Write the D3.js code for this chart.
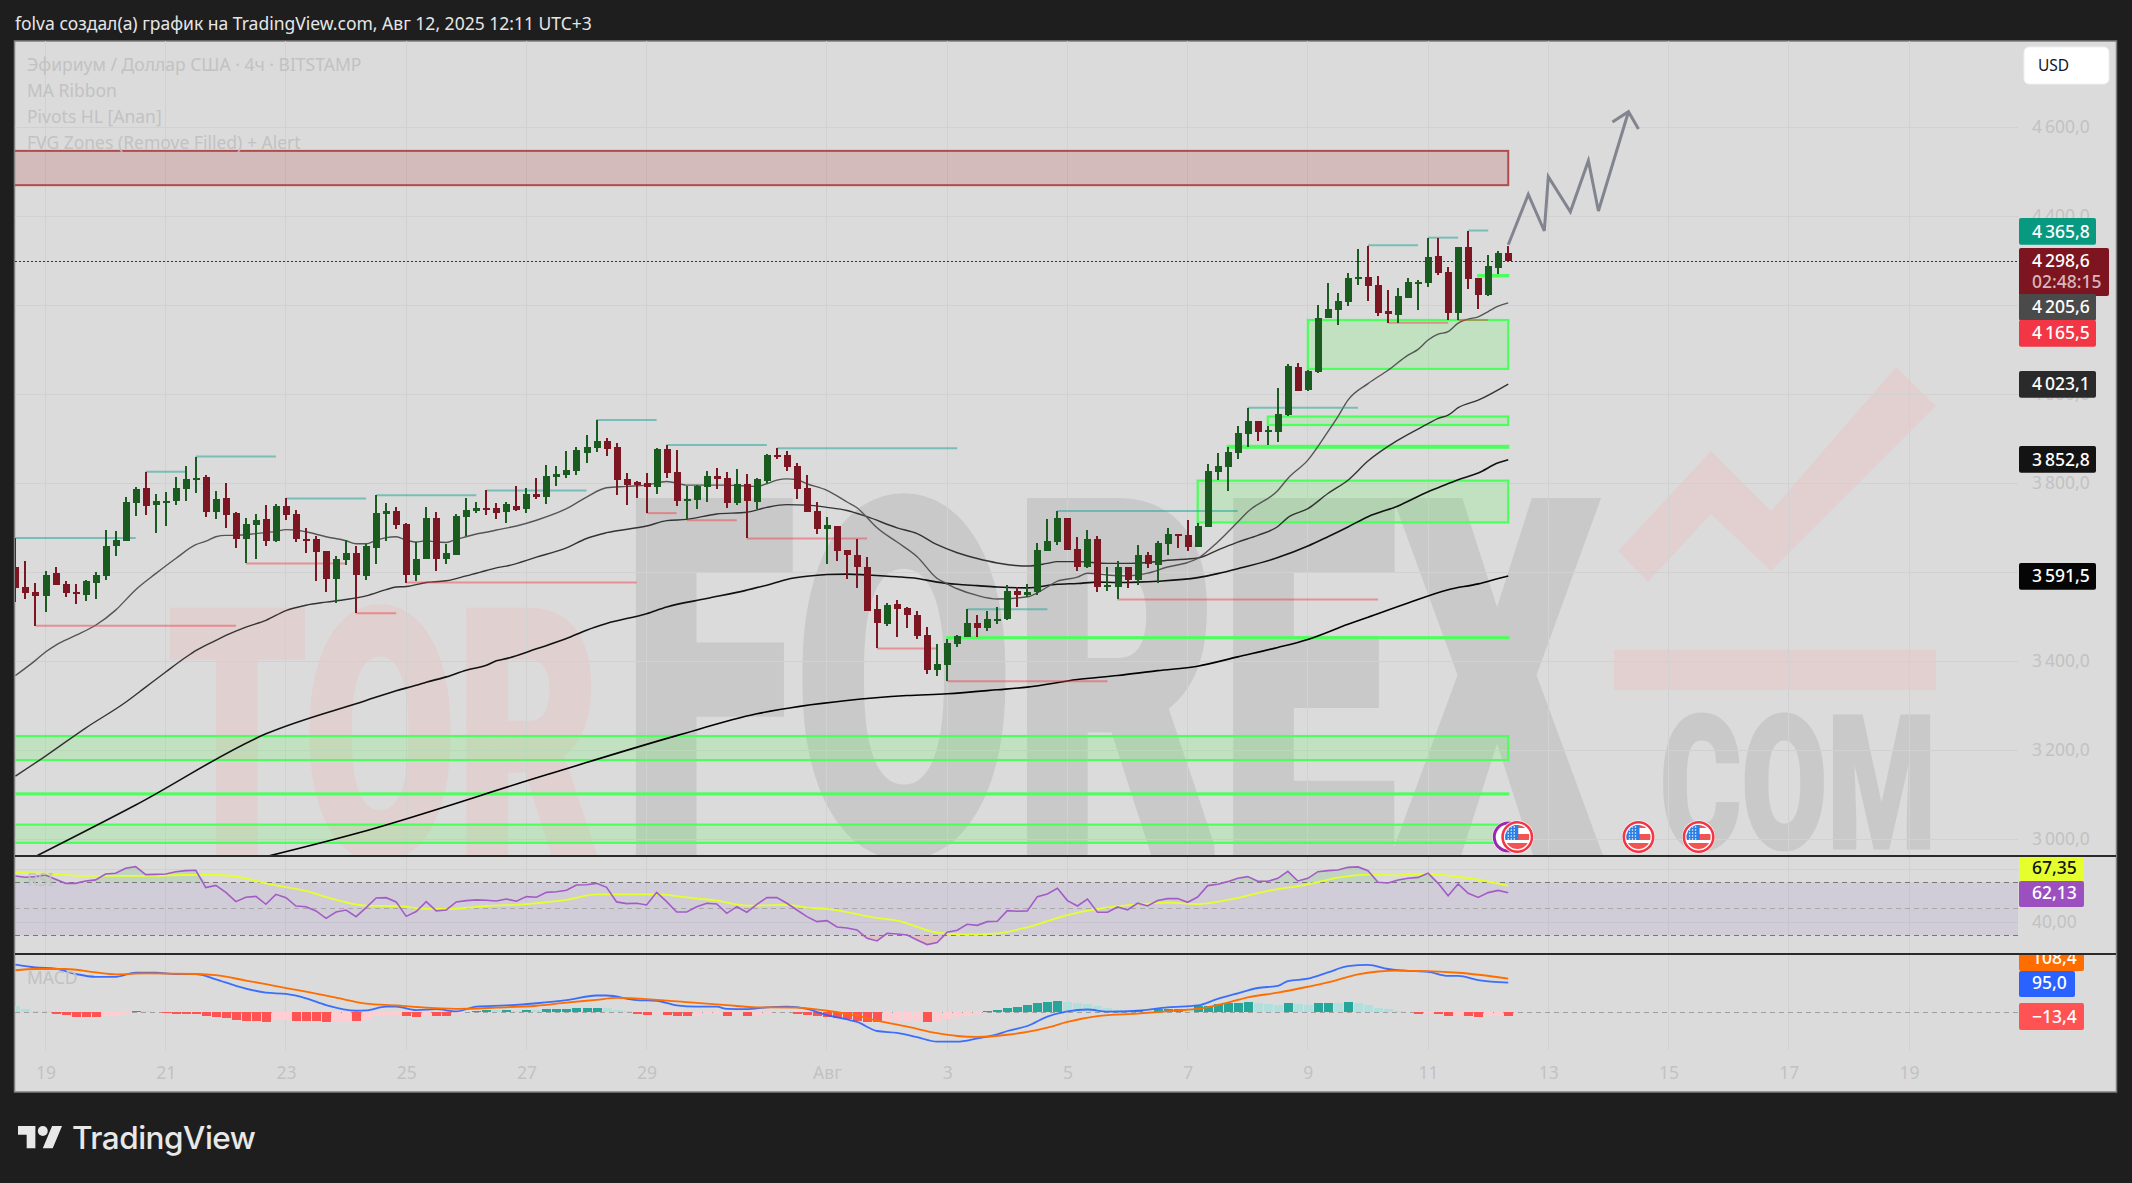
<!DOCTYPE html>
<html><head><meta charset="utf-8">
<script src="https://cdn.jsdelivr.net/npm/d3@7/dist/d3.min.js"></script>
<style>html,body{margin:0;padding:0;background:#1e1e1e}svg{display:block}text{font-family:"Noto Sans",sans-serif}</style>
</head><body><svg id="c" width="2132" height="1183"></svg>
<script>
// ---- data ----
const firstBar=-3;
const candleOpen=[3612,3566,3555,3547,3598,3573,3555,3550,3577,3591,
3658,3670,3755,3789,3751,3758,3760,3787,3807,3814,
3735,3766,3733,3674,3706,3719,3670,3748,3730,3674,
3674,3647,3586,3627,3643,3591,3654,3730,3737,3708,
3593,3629,3721,3631,3640,3724,3737,3744,3744,3735,
3748,3742,3775,3769,3814,3818,3827,3868,3879,3895,
3881,3809,3802,3800,3791,3877,3825,3760,3762,3791,
3816,3811,3755,3798,3757,3805,3863,3863,3838,3789,
3737,3697,3704,3649,3640,3613,3517,3483,3528,3519,
3505,3458,3380,3391,3440,3454,3485,3474,3494,3494,
3557,3550,3555,3647,3667,3721,3652,3611,3674,3568,
3568,3611,3582,3638,3616,3663,3685,3683,3656,3701,
3825,3836,3868,3911,3940,3917,3915,3953,4061,4010,
4050,4172,4190,4208,4259,4264,4246,4187,4178,4217,
4250,4250,4311,4275,4183,4331,4262,4223,4284,4318];
const candleHigh=[3676,3625,3577,3602,3611,3580,3573,3582,3600,3694,
3692,3769,3791,3826,3775,3780,3814,3838,3859,3818,
3782,3800,3735,3721,3730,3751,3753,3766,3739,3699,
3681,3647,3636,3672,3658,3663,3773,3755,3746,3710,
3667,3746,3735,3663,3730,3766,3757,3784,3755,3757,
3793,3789,3811,3841,3838,3872,3881,3908,3942,3901,
3890,3823,3805,3823,3879,3886,3874,3793,3796,3827,
3834,3825,3832,3820,3811,3865,3879,3872,3845,3818,
3757,3724,3704,3649,3674,3634,3550,3530,3537,3523,
3514,3478,3440,3451,3458,3517,3503,3514,3521,3571,
3566,3573,3665,3719,3737,3721,3679,3694,3681,3611,
3625,3613,3661,3645,3670,3699,3685,3717,3710,3843,
3868,3881,3928,3969,3940,3928,4014,4068,4070,4055,
4201,4250,4228,4273,4327,4334,4266,4235,4239,4262,
4257,4352,4352,4286,4331,4367,4262,4313,4322,4334];
const candleLow=[3533,3539,3480,3511,3571,3544,3528,3535,3539,3582,
3636,3670,3726,3728,3688,3703,3751,3760,3778,3724,
3719,3699,3654,3620,3629,3658,3667,3717,3667,3643,
3580,3555,3530,3616,3508,3582,3618,3670,3697,3575,
3580,3629,3602,3618,3640,3681,3733,3728,3719,3710,
3737,3733,3764,3753,3793,3811,3818,3845,3870,3861,
3773,3751,3766,3733,3775,3811,3748,3719,3742,3757,
3787,3744,3751,3676,3742,3800,3854,3827,3764,3735,
3685,3618,3625,3586,3564,3512,3429,3479,3454,3474,
3449,3371,3368,3355,3433,3454,3454,3467,3483,3492,
3521,3544,3550,3647,3661,3649,3602,3609,3555,3559,
3539,3564,3571,3609,3575,3638,3654,3647,3656,3701,
3807,3782,3854,3881,3895,3886,3892,3951,4007,4007,
4048,4172,4156,4199,4246,4210,4176,4160,4160,4217,
4190,4241,4268,4167,4167,4237,4192,4221,4271,4298.6];
const candleClose=[3565,3553,3547,3595,3571,3553,3553,3580,3593,3658,
3672,3757,3787,3748,3760,3760,3789,3809,3811,3735,
3764,3728,3674,3708,3717,3670,3748,3728,3674,3672,
3645,3586,3629,3643,3593,3658,3733,3737,3706,3593,
3631,3721,3631,3643,3726,3739,3744,3739,3733,3753,
3739,3775,3769,3816,3820,3829,3874,3881,3895,3877,
3807,3796,3796,3791,3877,3823,3760,3764,3793,3816,
3809,3755,3798,3760,3809,3863,3861,3836,3787,3735,
3697,3706,3647,3640,3613,3514,3485,3526,3517,3505,
3456,3380,3393,3442,3456,3485,3474,3496,3496,3557,
3550,3555,3649,3670,3721,3649,3611,3674,3566,3571,
3611,3582,3638,3618,3665,3685,3683,3656,3703,3827,
3838,3870,3913,3940,3915,3920,3956,4063,4007,4052,
4172,4192,4210,4262,4264,4244,4183,4181,4221,4253,
4253,4309,4273,4183,4331,4259,4223,4289,4318,4298.6];

const maFastBars=[-3,-1,0,1,3,5,7,9,11,13,15,16,17,18,19,21,23,24,25,26,28,30,31,32,33,34,35,36,37,38,39,40,41,42,43,44,45,47,49,52,54,56,58,60,62,64,66,68,71,72,73,74,75,76,78,80,81,82,83,85,87,89,90,91,93,95,98,99,100,101,103,104,106,108,110,112,114,115,117,119,120,123,124,126,128,129,130,132,134,136,137,138,139,140,141,142,143,144,145,146];
const maFastValues=[3368,3402,3421,3436,3458,3481,3515,3561,3597,3631,3662,3670,3680,3683,3683,3687,3692,3696,3695,3691,3680,3671,3664,3664,3672,3678,3680,3672,3668,3671,3668,3667,3674,3680,3686,3690,3695,3704,3717,3743,3769,3790,3793,3796,3804,3796,3796,3796,3793,3799,3807,3810,3808,3799,3784,3758,3745,3723,3700,3668,3635,3586,3574,3563,3548,3540,3545,3554,3567,3580,3589,3598,3594,3592,3598,3612,3622,3631,3668,3713,3736,3784,3811,3852,3916,3950,3987,4024,4054,4088,4101,4122,4135,4141,4160,4169,4174,4186,4198,4205.6];
const maMidBars=[-3,0,4,8,10,12,14,15,17,18,20,22,24,26,28,30,32,34,35,36,38,40,42,44,45,46,49,52,54,56,60,62,64,67,70,72,74,76,78,80,82,85,87,89,91,93,95,98,100,101,103,106,108,110,112,115,117,119,121,123,124,126,128,130,132,135,138,139,140,141,143,146];
const maMidValues=[3142,3187,3250,3308,3342,3376,3409,3424,3447,3458,3477,3492,3514,3526,3533,3539,3547,3561,3567,3568,3577,3581,3592,3604,3610,3614,3634,3655,3676,3689,3704,3716,3719,3731,3735,3746,3752,3751,3746,3739,3725,3700,3687,3662,3644,3631,3621,3614,3620,3624,3624,3620,3620,3622,3627,3632,3650,3668,3683,3703,3723,3743,3777,3807,3850,3897,3934,3946,3953,3970,3987,4023.1];
const maSlowBars=[-2,9,22,32,35,37,38,40,42,44,45,46,49,52,54,56,60,62,66,70,72,74,76,78,80,82,85,87,89,91,93,95,98,101,103,105,107,109,111,115,117,119,123,126,128,130,132,135,138,139,141,143,145,146];
const maSlowValues=[2950,3077,3237,3312,3334,3346,3353,3365,3380,3391,3401,3406,3428,3451,3470,3485,3507,3522,3541,3560,3571,3584,3591,3595,3596,3594,3590,3586,3578,3573,3570,3567,3565,3573,3575,3578,3577,3578,3580,3588,3597,3608,3633,3659,3680,3702,3725,3749,3781,3790,3808,3823,3846,3852.8];
const maLongBars=[20,31,50,63,71,80,86,90,95,98,103,107,111,115,119,123,126,130,132,136,140,143,145,146];
const maLongValues=[2950,3013,3145,3233,3282,3312,3323,3327,3336,3342,3359,3368,3379,3389,3410,3431,3449,3483,3499,3531,3561,3574,3586,3591.5];

const pivotHighStart=[-3,10,15,24,33,44,55,62,73,92,101,120,132,138,142];
const pivotHighEnd=[9,14,23,32,43,54,61,72,91,100,119,131,137,141,144];
const pivotHighPrice=[3677,3826,3860,3766,3773,3784,3942,3886,3879,3517,3738,3970,4335,4352,4368];
const pivotLowStart=[-1,20,31,36,60,64,70,83,90,107,134,141];
const pivotLowEnd=[19,30,35,59,63,69,82,89,106,133,140,144];
const pivotLowPrice=[3480,3620,3508,3577,3733,3717,3676,3429,3355,3539,4161,4167];

const zoneStart=[126,122,118,115,90,143,-4,-4,-4];
const zoneTop=[4167,3950,3884,3806,3454,4268,3232,3103,3033];
const zoneBottom=[4057,3931,3880,3712,3452,4265,3178,3101,2992];
const resistTop=4547, resistBottom=4470;

const arrowBars=[146,148,149.6,150,152.2,154,155,158];
const arrowPrices=[4336,4449,4367,4489,4410,4525,4412,4635];
const arrowHeadBars=[156.4,158,159];
const arrowHeadPrices=[4612,4635,4596];

const rsiValues=[74.8,73.8,74.3,75.5,72.3,69.2,69.2,71.0,71.8,76.3,
76.8,80.6,81.8,75.8,76.0,76.3,78.0,78.8,79.1,66.0,
67.7,62.4,55.4,58.7,59.4,53.4,60.9,58.4,52.1,51.6,
48.4,42.8,47.6,49.1,44.1,50.9,58.2,58.4,55.2,44.3,
47.9,55.4,48.4,49.1,55.2,56.2,56.7,56.4,55.9,57.4,
55.7,59.2,58.7,62.4,62.9,64.0,68.0,68.2,69.2,66.2,
55.2,53.9,54.2,52.9,62.4,55.4,47.6,47.6,51.6,54.2,
53.6,46.6,51.6,47.4,53.4,58.4,58.4,54.2,49.1,44.1,
40.3,41.1,36.3,35.5,34.0,27.7,25.7,31.5,31.0,30.2,
26.5,23.0,24.5,32.3,33.8,38.3,37.5,40.3,40.6,48.6,
48.1,48.4,59.2,61.2,65.5,56.2,52.1,57.4,47.4,47.4,
51.4,49.1,54.2,52.1,56.2,57.7,57.7,54.9,58.9,67.5,
68.5,70.5,73.0,74.3,70.8,70.8,73.0,78.3,71.0,73.0,
78.0,78.8,79.3,81.3,81.6,78.8,70.0,69.5,71.8,73.0,
73.7,76.8,69.2,59.9,68.7,61.7,58.6,62.2,63.9,62.13];
const rsiMaBars=[-3,0,4,10,14,17,20,22,26,29,32,35,38,40,44,48,52,55,61,65,67,70,74,76,78,83,85,89,92,95,98,102,105,109,112,115,118,122,126,129,132,135,136,138,141,144,146];
const rsiMaValues=[77.3,76.5,74.8,74.8,75.5,75.5,73.0,69.2,63.5,56.7,52.4,52.1,49.9,49.9,52.1,53.6,56.7,60.9,60.9,57.7,56.2,52.4,52.9,50.9,49.9,43.1,41.1,32.0,30.5,31.5,36.0,45.3,49.9,53.4,54.6,53.6,56.7,63.5,68.5,73.5,75.8,75.3,76.0,76.2,74.2,70.5,67.35];

const macdBars=[-3,-1,1,3,5,7,9,11,13,15,17,19,22,24,26,28,31,32,34,35,37,39,41,43,46,49,52,55,56,59,61,63,65,67,68,70,72,74,76,78,80,81,83,85,87,89,91,93,95,96,98,100,102,104,106,109,112,115,117,119,121,123,124,126,128,130,132,134,135,136,138,140,141,143,146];
const macdValues=[153,144,140,123,114,114,127,127,123,123,106,85,63,59,45,23,5,6,18,18,7,10,3,18,22,29,39,54,54,39,37,22,18,18,11,10,16,18,11,-9,-23,-31,-60,-66,-80,-94,-94,-84,-71,-60,-44,-14,3,9,2,5,16,22,43,61,78,85,100,108,128,148,152,139,135,133,130,117,117,103,95];
const signalBars=[-3,-1,2,5,7,10,15,17,20,23,26,29,32,35,37,41,45,49,52,55,57,61,65,68,71,75,78,81,83,86,89,91,93,96,98,100,102,105,109,113,115,118,120,123,126,128,131,133,135,136,138,141,146];
const signalValues=[135,139,139,128,122,125,123,119,102,84,66,47,28,22,17,11,15,21,31,40,46,40,30,23,16,15,5,-11,-27,-46,-67,-76,-79,-72,-63,-49,-31,-12,-4,6,11,31,48,63,82,96,122,131,134,133,132,127,108.4];
const histValues=[20,10,3,3,-4,-9,-14,-14,-14,-11,
-11,-3,4,3,1,-1,-5,-5,-5,-13,
-15,-17,-24,-27,-27,-31,-24,-24,-27,-27,
-27,-31,-29,-29,-27,-24,-13,-9,-9,-13,
-14,-10,-11,-11,-4,2,5,8,8,8,
3,8,8,10,10,10,13,13,13,13,
8,3,-5,-8,-3,-8,-11,-13,-13,-5,
-5,-13,-5,-13,-9,-2,2,2,-4,-8,
-13,-16,-18,-22,-27,-30,-32,-29,-27,-27,
-27,-30,-29,-22,-16,-11,-4,3,8,14,
18,22,29,32,35,33,30,27,21,14,
8,4,8,4,10,10,10,8,19,21,
26,29,30,33,30,27,25,30,28,25,
30,30,30,34,30,24,14,9,3,1,
-4,-3,-4,-13,-10,-13,-16,-13,-13,-13.4];
const histTones=("llllrrrrrp"+"pptllrrrrr"+"rrrrrrpprr"+"rrpprppppr"+"rprrptttlt"+"ltlttttttl"+"llrrprrrpp"+"prprppttrr"+"rrrrrrrppp"+"prpppppttt"+"tttttlllll"+"lltltttltt"+"ttttllltll"+"ttltllllll"+"rprrprrppr").split("");

const tickBars=[0,12,24,36,48,60,78,90,102,114,126,138,150,162,174,186];
const tickLabels=["19","21","23","25","27","29","Авг","3","5","7","9","11","13","15","17","19"];
const priceTicks=[4600,4400,4200,4000,3800,3600,3400,3200,3000];
const rsiBands=[70,50,30];
const eventBars=[146.9,159,165];

const lastPriceLabels=["4365,8","4298,6","4205,6","4165,5","4023,1","3852,8","3591,5"];
const lastPriceValues=[4365.8,4298.6,4205.6,4165.5,4023.1,3852.8,3591.5];
const lastPriceColors=["#089981","#7c151f","#4a4a4a","#f23645","#2a2a2a","#131313","#050505"];

// ---- geometry ----
const L=15,R=2018,RE=2116,T=41,PB=856,RB=954,MB=1050,B=1092;
const svg=d3.select("#c");
const x=d3.scaleLinear().domain([0,186]).range([45.5,1909]);
const y=d3.scaleLinear().domain([3000,4600]).range([839.3,127.3]);
const yR=d3.scaleLinear().domain([30,70]).range([935.3,882.3]);
const yM=d3.scaleLinear().domain([0,95]).range([1012.3,982.7]);
const bars=candleOpen.map((o,k)=>({i:firstBar+k,o,h:candleHigh[k],l:candleLow[k],c:candleClose[k]}));
const num=d3.formatLocale({decimal:",",thousands:"\u2009",grouping:[3],currency:["",""]}).format(",.1f");

svg.append("rect").attr("width",2132).attr("height",1183).attr("fill","#1e1e1e");
svg.append("rect").attr("x",14.5).attr("y",41).attr("width",2102).attr("height",1051).attr("fill","#dbdbdb").attr("stroke","#7f7f7f").attr("stroke-width",1.5);
const defs=svg.append("defs");
defs.append("clipPath").attr("id","pp").append("rect").attr("x",L).attr("y",T).attr("width",R-L).attr("height",PB-T);
defs.append("clipPath").attr("id","wm").append("rect").attr("x",L).attr("y",T).attr("width",RE-L).attr("height",PB-T);
defs.append("clipPath").attr("id","rp").append("rect").attr("x",L).attr("y",PB).attr("width",R-L).attr("height",RB-PB);
defs.append("clipPath").attr("id","mp").append("rect").attr("x",L).attr("y",RB).attr("width",R-L).attr("height",MB-RB);

// watermark
const wm=svg.append("g").attr("clip-path","url(#wm)").style("font-weight",900);
function wmText(t,xx,len,base,size,col,sw){wm.append("text").text(t).attr("x",xx).attr("y",base).attr("textLength",len).attr("lengthAdjust","spacingAndGlyphs").attr("font-size",size).attr("fill",col).attr("stroke",col).attr("stroke-width",sw).style("font-family","Roboto,'Liberation Sans',sans-serif");}
wmText("TOR",168,432,856,345,"#e0d0d0",6);
wmText("FOREX",622,976,850,488,"#c9c9c9",10);
wmText("COM",1660,276,848,186,"#c9c9c9",3);
wm.append("rect").attr("x",1614).attr("y",650).attr("width",322).attr("height",40).attr("fill","#e2d0d0");
wm.append("polygon").attr("points","1618,551 1711,451 1771,511 1896,367 1936,406 1771,571 1711,514 1648,582").attr("fill","#e2d0d0");

// grid
const grid=svg.append("g").attr("stroke","#d1d1d1").attr("stroke-width",1).attr("shape-rendering","crispEdges");
grid.selectAll(".v").data(tickBars).join("line").attr("x1",d=>x(d)).attr("x2",d=>x(d)).attr("y1",T).attr("y2",MB);
grid.selectAll(".h").data(priceTicks).join("line").attr("x1",L).attr("x2",R).attr("y1",d=>y(d)).attr("y2",d=>y(d));
grid.selectAll(".r").data([80,40]).join("line").attr("x1",L).attr("x2",R).attr("y1",d=>yR(d)).attr("y2",d=>yR(d));

// price pane
const pp=svg.append("g").attr("clip-path","url(#pp)");
const right=x(146);
pp.append("rect").attr("x",L-2).attr("y",y(resistTop)).attr("width",right-L+2).attr("height",y(resistBottom)-y(resistTop)).attr("fill","rgba(178,60,60,.2)").attr("stroke","#b04c4c").attr("stroke-width",2);
pp.append("g").selectAll("rect").data(zoneStart).join("rect")
 .attr("x",d=>x(d)).attr("y",(d,k)=>y(zoneTop[k])).attr("width",d=>right-x(d)).attr("height",(d,k)=>y(zoneBottom[k])-y(zoneTop[k]))
 .attr("fill","rgba(76,255,80,.18)").attr("stroke","#4dff5c").attr("stroke-width",2.2);
const ln=(xs,ys,sc)=>d3.line().x(d=>x(d)).y((d,k)=>sc(ys[k])).curve(d3.curveMonotoneX)(xs);
[[maLongBars,maLongValues,"#000",1.6],[maSlowBars,maSlowValues,"#111",1.6],[maMidBars,maMidValues,"#333",1.4],[maFastBars,maFastValues,"#555",1.4]].forEach(m=>{
 pp.append("path").attr("d",ln(m[0],m[1],y)).attr("fill","none").attr("stroke",m[2]).attr("stroke-width",m[3]);});
pp.append("line").attr("x1",L).attr("x2",R).attr("y1",y(4298.6)).attr("y2",y(4298.6)).attr("stroke","#7c151f").attr("stroke-dasharray","2 2").attr("shape-rendering","crispEdges");
pp.append("g").selectAll("line").data(pivotHighStart).join("line").attr("x1",d=>x(d)).attr("x2",(d,k)=>x(pivotHighEnd[k])).attr("y1",(d,k)=>y(pivotHighPrice[k])).attr("y2",(d,k)=>y(pivotHighPrice[k])).attr("stroke","#26a69a").attr("stroke-opacity",.55).attr("stroke-width",2);
pp.append("g").selectAll("line").data(pivotLowStart).join("line").attr("x1",d=>x(d)).attr("x2",(d,k)=>x(pivotLowEnd[k])).attr("y1",(d,k)=>y(pivotLowPrice[k])).attr("y2",(d,k)=>y(pivotLowPrice[k])).attr("stroke","#f23645").attr("stroke-opacity",.45).attr("stroke-width",2);
const cg=pp.append("g").attr("shape-rendering","crispEdges");
const colr=d=>d.c>=d.o?"#1a5c20":"#7b1622";
cg.selectAll(".w").data(bars).join("rect").attr("x",d=>Math.round(x(d.i))-1).attr("width",2).attr("y",d=>y(d.h)).attr("height",d=>y(d.l)-y(d.h)).attr("fill",colr);
cg.selectAll(".b").data(bars).join("rect").attr("x",d=>Math.round(x(d.i))-3.5).attr("width",7).attr("y",d=>y(Math.max(d.o,d.c))).attr("height",d=>Math.max(2,Math.abs(y(d.o)-y(d.c)))).attr("fill",colr);
const arrow=d3.line().x(d=>x(d)).y((d,k)=>y(arrowPrices[k]));
const arrowHead=d3.line().x(d=>x(d)).y((d,k)=>y(arrowHeadPrices[k]));
pp.append("path").attr("d",arrow(arrowBars)).attr("fill","none").attr("stroke","#82848f").attr("stroke-width",3);
pp.append("path").attr("d",arrowHead(arrowHeadBars)).attr("fill","none").attr("stroke","#82848f").attr("stroke-width",3);

// events
const ev=svg.append("g");
ev.append("circle").attr("cx",x(146)).attr("cy",837).attr("r",16).attr("fill","#fff");
ev.append("circle").attr("cx",x(146)).attr("cy",837).attr("r",14).attr("fill","#fff").attr("stroke","#9c27b0").attr("stroke-width",3);
defs.append("clipPath").attr("id","flag").append("circle").attr("r",12);
eventBars.forEach(b=>{
 const g=ev.append("g").attr("transform",`translate(${x(b)},837)`);
 g.append("circle").attr("r",16.5).attr("fill","#fff");
 g.append("circle").attr("r",14.7).attr("fill","#fff").attr("stroke","#f23645").attr("stroke-width",2.6);
 const f=g.append("g").attr("clip-path","url(#flag)");
 [[-13,-9],[-3,3],[6,13]].forEach(s=>f.append("rect").attr("x",-13).attr("width",26).attr("y",s[0]).attr("height",s[1]-s[0]).attr("fill","#f05454"));
 f.append("rect").attr("x",-13).attr("y",-13).attr("width",14).attr("height",16).attr("fill","#2a7fe6");
 for(let a=-9;a<0;a+=3)for(let c=-10;c<3;c+=3)f.append("circle").attr("cx",a).attr("cy",c).attr("r",.8).attr("fill","#fff");
});

// RSI
const rp=svg.append("g").attr("clip-path","url(#rp)");
rp.append("rect").attr("x",L).attr("y",yR(70)).attr("width",R-L).attr("height",yR(30)-yR(70)).attr("fill","rgba(126,87,194,.1)");
const rsiIdx=rsiValues.map((v,k)=>firstBar+k);
rp.append("path").attr("d",d3.area().x(d=>x(d)).y0(yR(70)).y1((d,k)=>yR(Math.max(70,rsiValues[k])))(rsiIdx)).attr("fill","rgba(76,175,80,.18)");
rp.append("path").attr("d",d3.area().x(d=>x(d)).y0(yR(30)).y1((d,k)=>yR(Math.min(30,rsiValues[k])))(rsiIdx)).attr("fill","rgba(242,54,69,.15)");
rp.selectAll(".d").data(rsiBands).join("line").attr("x1",L).attr("x2",R).attr("y1",d=>yR(d)).attr("y2",d=>yR(d)).attr("stroke",d=>d==50?"#a8a8a8":"#787878").attr("stroke-dasharray","5 4").attr("shape-rendering","crispEdges");
rp.append("path").attr("d",d3.line().x(d=>x(d)).y((d,k)=>yR(rsiMaValues[k])).curve(d3.curveMonotoneX)(rsiMaBars)).attr("fill","none").attr("stroke","#e5ff2e").attr("stroke-width",1.8);
rp.append("path").attr("d",d3.line().x(d=>x(d)).y((d,k)=>yR(rsiValues[k]))(rsiIdx)).attr("fill","none").attr("stroke","#a35bc7").attr("stroke-width",1.6);

// MACD
const mp=svg.append("g").attr("clip-path","url(#mp)");
mp.append("line").attr("x1",L).attr("x2",R).attr("y1",yM(0)).attr("y2",yM(0)).attr("stroke","#a0a0a0").attr("stroke-dasharray","5 4").attr("shape-rendering","crispEdges");
const tone={t:"#26a69a",l:"#b2dfdb",p:"#ffcdd2",r:"#ff5252"};
mp.append("g").attr("shape-rendering","crispEdges").selectAll("rect").data(histValues).join("rect")
 .attr("x",(d,k)=>Math.round(x(firstBar+k))-4.5).attr("width",9).attr("y",d=>Math.min(yM(0),yM(d))).attr("height",d=>Math.abs(yM(d)-yM(0))).attr("fill",(d,k)=>tone[histTones[k]]);
mp.append("path").attr("d",ln(macdBars,macdValues,yM)).attr("fill","none").attr("stroke","#2962ff").attr("stroke-width",1.8).attr("opacity",.9);
mp.append("path").attr("d",ln(signalBars,signalValues,yM)).attr("fill","none").attr("stroke","#ff6d00").attr("stroke-width",1.8);

// pane separators
svg.selectAll(".sep").data([PB,RB]).join("line").attr("x1",L).attr("x2",RE).attr("y1",d=>d).attr("y2",d=>d).attr("stroke","#2a2a2a").attr("stroke-width",2).attr("shape-rendering","crispEdges");

// axes
const style=g=>{g.select(".domain").remove();g.selectAll("text").attr("fill","#c2c2c2").attr("font-size",17.5).attr("dy",null).attr("dominant-baseline","central").style("font-family",'"Noto Sans",sans-serif');};
svg.append("g").attr("transform","translate(0,1071.5)").call(d3.axisBottom(x).tickValues(tickBars).tickFormat((d,k)=>tickLabels[k]).tickSize(0).tickPadding(0)).call(style).selectAll("text").attr("y",0);
svg.append("g").attr("transform","translate(2032,-1.5)").call(d3.axisRight(y).tickValues(priceTicks).tickFormat(num).tickSize(0).tickPadding(0)).call(style).selectAll("text").attr("x",0);
svg.append("g").attr("transform","translate(2032,-1.5)").call(d3.axisRight(yR).tickValues([40]).tickFormat(d=>"40,00").tickSize(0).tickPadding(0)).call(style).selectAll("text").attr("x",0);

// last value labels
const nudge=[0,0,4.5,12.5,0,0,0];
const lab=svg.append("g");
function box(x0,y0,w,h,col){lab.append("rect").attr("x",x0).attr("y",y0).attr("width",w).attr("height",h).attr("rx",2).attr("fill",col);}
function txt(t,xx,yy,col,size){lab.append("text").text(t).attr("x",xx).attr("y",yy-1).attr("dominant-baseline","central").attr("fill",col).attr("font-size",size||17.5).attr("font-weight",500);}
const sp=s=>s.slice(0,1)+"\u2009"+s.slice(1);
lastPriceValues.forEach((v,k)=>{
 const cy=y(v)+nudge[k];
 if(k==1){box(2019,248,90,48,lastPriceColors[k]);txt(sp(lastPriceLabels[k]),2032,cy,"#fff");txt("02:48:15",2032,282,"#d9b6bb");}
 else{box(2019,Math.round(cy-13.4),77,26.8,lastPriceColors[k]);txt(sp(lastPriceLabels[k]),2032,cy,"#fff");}
});
box(2019,857,65,24,"#e5ff2e");txt("67,35",2032,868,"#111");
box(2019,881,65,26,"#9c50c0");txt("62,13",2032,893,"#fff");
defs.append("clipPath").attr("id","mc").append("rect").attr("x",2010).attr("y",RB+1).attr("width",100).attr("height",120);
const og=lab.append("g").attr("clip-path","url(#mc)");
og.append("rect").attr("x",2019).attr("y",945).attr("width",65).attr("height",26).attr("rx",2).attr("fill","#ff6d00");
og.append("text").text("108,4").attr("x",2032).attr("y",957).attr("dominant-baseline","central").attr("fill","#fff").attr("font-size",17.5).attr("font-weight",500);
box(2019,971,56,26,"#2962ff");txt("95,0",2032,983,"#fff");
box(2019,1003,65,27,"#ff5252");txt("\u221213,4",2032,1016.5,"#fff");

// USD button
svg.append("rect").attr("x",2024).attr("y",47).attr("width",85).attr("height",37).attr("rx",5).attr("fill","#fff").attr("stroke","#f0f0f0");
svg.append("text").text("USD").attr("x",2038).attr("y",65).attr("dominant-baseline","central").attr("font-size",15.5).attr("fill","#131722");

// legends
const legends=["Эфириум / Доллар США · 4ч · BITSTAMP","MA Ribbon","Pivots HL [Anan]","FVG Zones (Remove Filled) + Alert"];
svg.append("g").selectAll("text").data(legends).join("text").text(d=>d).attr("x",27).attr("y",(d,k)=>63.5+26*k).attr("dominant-baseline","central").attr("font-size",17.5).attr("fill","#c2c2c2");
svg.append("text").text("RSI").attr("x",27).attr("y",879).attr("dominant-baseline","central").attr("font-size",17.5).attr("fill","#c2c2c2");
svg.append("text").text("MACD").attr("x",27).attr("y",977).attr("dominant-baseline","central").attr("font-size",17.5).attr("fill","#c2c2c2");

// header / footer
svg.append("text").text("folva создал(а) график на TradingView.com, Авг 12, 2025 12:11 UTC+3").attr("x",15).attr("y",23).attr("dominant-baseline","central").attr("font-size",17.5).attr("fill","#e6e6e6");
const logo=svg.append("g").attr("transform","translate(18,1121) scale(1.24)").attr("fill","#e8e8e8");
logo.append("path").attr("d","M14 22H7V11H0V4h14v18zM28 22h-8l7.5-18h8L28 22z");
logo.append("circle").attr("cx",20).attr("cy",8).attr("r",4);
svg.append("text").text("TradingView").attr("x",72).attr("y",1137).attr("dominant-baseline","central").attr("font-size",31.5).attr("font-weight",500).attr("fill","#e8e8e8").attr("letter-spacing",-.5).style("font-family","Inter,'Noto Sans',sans-serif");
</script></body></html>
